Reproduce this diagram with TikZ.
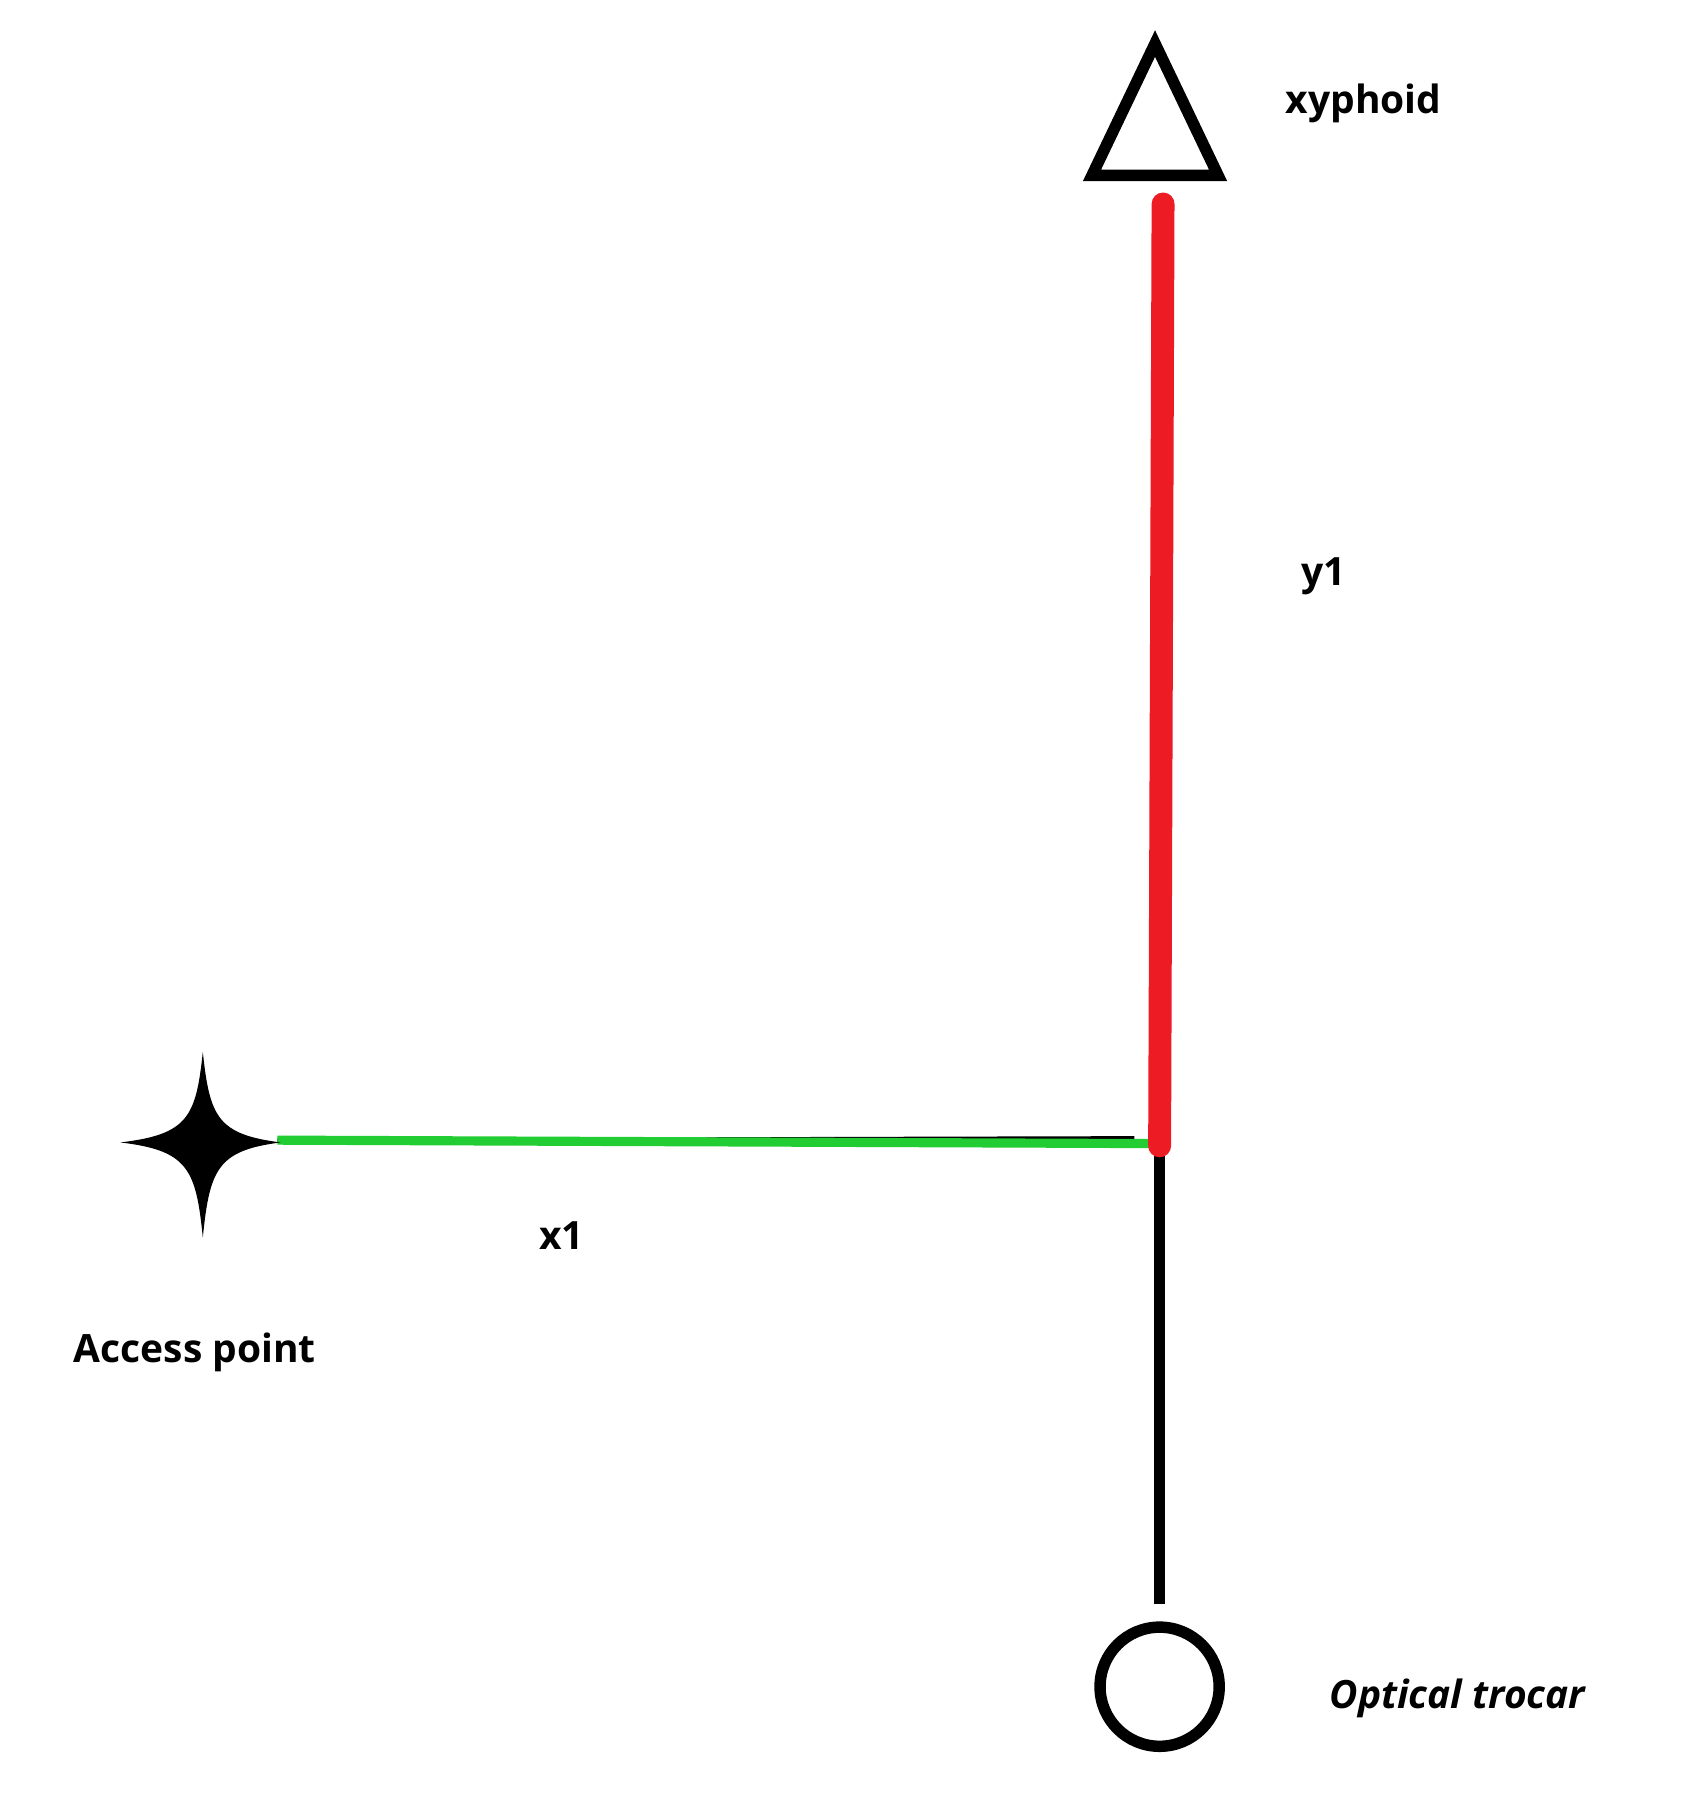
\documentclass[tikz,border=0pt]{standalone}
\usepackage{fontspec}
\setmainfont{Open Sans}
\begin{document}
\begin{tikzpicture}[x=1pt,y=-1pt,
  lbl/.style={font=\fontsize{34}{40}\selectfont\bfseries, inner sep=0pt},
  blk/.style={line width=10pt, black}]
\useasboundingbox (0,0) rectangle (1470,1570);
\definecolor{myred}{HTML}{ED1C24}
\definecolor{mygreen}{HTML}{22CC33}
% triangle
\draw[blk, line join=miter, fill=white] (1008,38) -- (1063,153) -- (953,153) -- cycle;
\coordinate (tri) at (1008,110);
% lines
\coordinate (rtop) at (1015,178);
\coordinate (corner) at (1012,1000);
\coordinate (gstart) at (242,995);
\coordinate (bbot) at (1012,1400);
\node[circle, draw, line width=10pt, minimum size=104pt, inner sep=0pt] (circ) at (1012,1472) {};
\draw[blk] (corner) -- (bbot);
\draw[black, line width=3pt] (gstart) -- (990,993);
\draw[mygreen, line width=8pt] (gstart) -- (1005,998);
\draw[myred, line width=20pt, line cap=round] (rtop) -- (corner);
% star
\fill[black] (177,918) .. controls (183,975) and (190,990) .. (245,997)
  .. controls (190,1004) and (183,1020) .. (177,1080)
  .. controls (171,1020) and (164,1004) .. (105,997)
  .. controls (164,990) and (171,975) .. (177,918) -- cycle;
\node[lbl] (xy) at (1190,90) {xyphoid};
\node[lbl] (y1) at (1155,503) {y1};
\node[lbl] (x1) at (490,1078) {x1};
\node[lbl] (ap) at (170,1180) {Access point};
\node[lbl, font=\fontsize{34}{40}\selectfont\bfseries\itshape] (ot) at (1272,1482) {Optical trocar};
\end{tikzpicture}
\end{document}
